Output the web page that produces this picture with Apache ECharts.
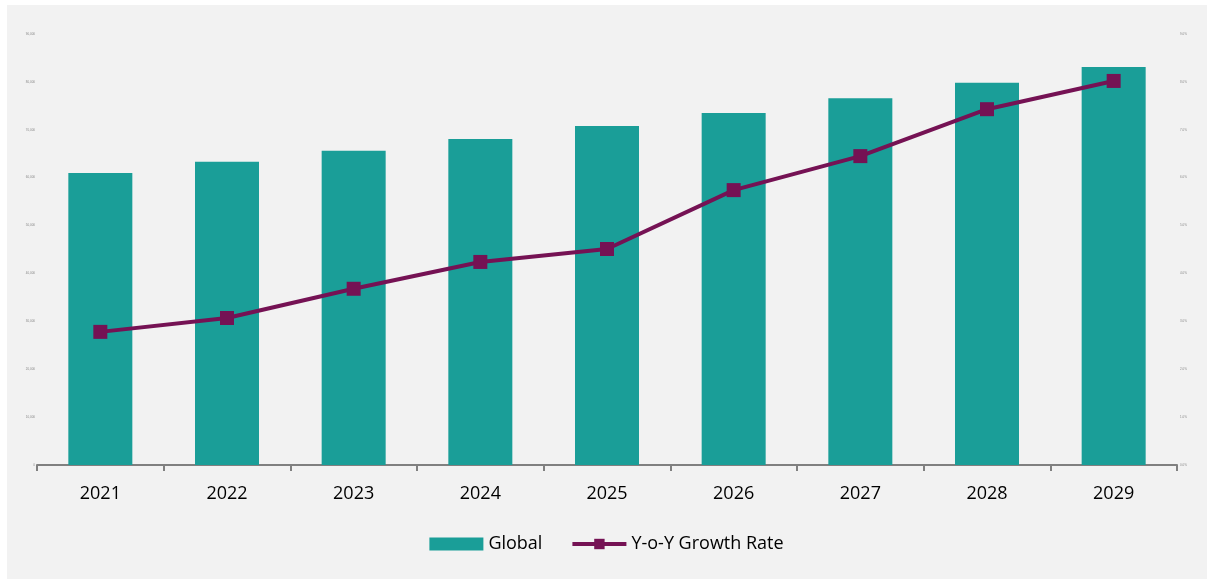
<!DOCTYPE html>
<html>
<head>
<meta charset="utf-8">
<script src="https://cdn.jsdelivr.net/npm/echarts@6/dist/echarts.min.js"></script>
<style>
html,body{margin:0;padding:0;background:#ffffff;}
#chart{width:1213px;height:579px;}
</style>
</head>
<body>
<div id="chart"></div>
<script>
const categories = ['2021','2022','2023','2024','2025','2026','2027','2028','2029'];
const globalValues = [61000, 63300, 65600, 68100, 70800, 73500, 76600, 79800, 83100];
const growthRate = [2.78, 3.07, 3.68, 4.24, 4.51, 5.74, 6.45, 7.43, 8.02];
const leftTickLabels = ['0','10,000','20,000','30,000','40,000','50,000','60,000','70,000','80,000','90,000'];
const rightTickLabels = ['0.0%','1.0%','2.0%','3.0%','4.0%','5.0%','6.0%','7.0%','8.0%','9.0%'];

const chart = echarts.init(document.getElementById('chart'), null, {renderer:'canvas'});
const font = '"Open Sans", "Noto Sans", sans-serif';
chart.setOption({
  backgroundColor: 'transparent',
  animation: false,
  graphic: [{
    type: 'rect', left: 7, top: 5, z: -10, silent: true,
    shape: {width: 1200, height: 574},
    style: {fill: '#f2f2f2'}
  }],
  grid: {left: 37, right: 36, top: 34, bottom: 114},
  legend: {
    bottom: 21, left: 'center',
    itemGap: 28, itemWidth: 54, itemHeight: 13,
    textStyle: {fontFamily: font, fontSize: 18, color: '#000'},
    data: [
      {name: 'Global', icon: 'rect'},
      {name: 'Y-o-Y Growth Rate', lineStyle: {width: 4, color: '#751254'}}
    ]
  },
  xAxis: {
    type: 'category',
    data: categories,
    axisLine: {lineStyle: {color: '#808080', width: 2}},
    axisTick: {show: true, length: 6, lineStyle: {color: '#808080', width: 2}},
    axisLabel: {fontFamily: font, fontSize: 18, color: '#000', margin: 20}
  },
  yAxis: [{
    type: 'value', min: 0, max: 90000, interval: 10000,
    splitLine: {show: false},
    axisLine: {show: false}, axisTick: {show: false},
    axisLabel: {fontSize: 3, color: '#888', margin: 2,
      formatter: (v) => leftTickLabels[Math.round(v / 10000)]}
  }, {
    type: 'value', min: 0, max: 9, interval: 1,
    splitLine: {show: false},
    axisLine: {show: false}, axisTick: {show: false},
    axisLabel: {fontSize: 3, color: '#888', margin: 3,
      formatter: (v) => rightTickLabels[Math.round(v)]}
  }],
  series: [{
    name: 'Global', type: 'bar', yAxisIndex: 0,
    data: globalValues, barWidth: 64,
    itemStyle: {color: '#1a9e98'}
  }, {
    name: 'Y-o-Y Growth Rate', type: 'line', yAxisIndex: 1,
    data: growthRate,
    symbol: 'rect', symbolSize: 14,
    lineStyle: {color: '#751254', width: 4},
    itemStyle: {color: '#751254'}
  }]
});
</script>
</body>
</html>
